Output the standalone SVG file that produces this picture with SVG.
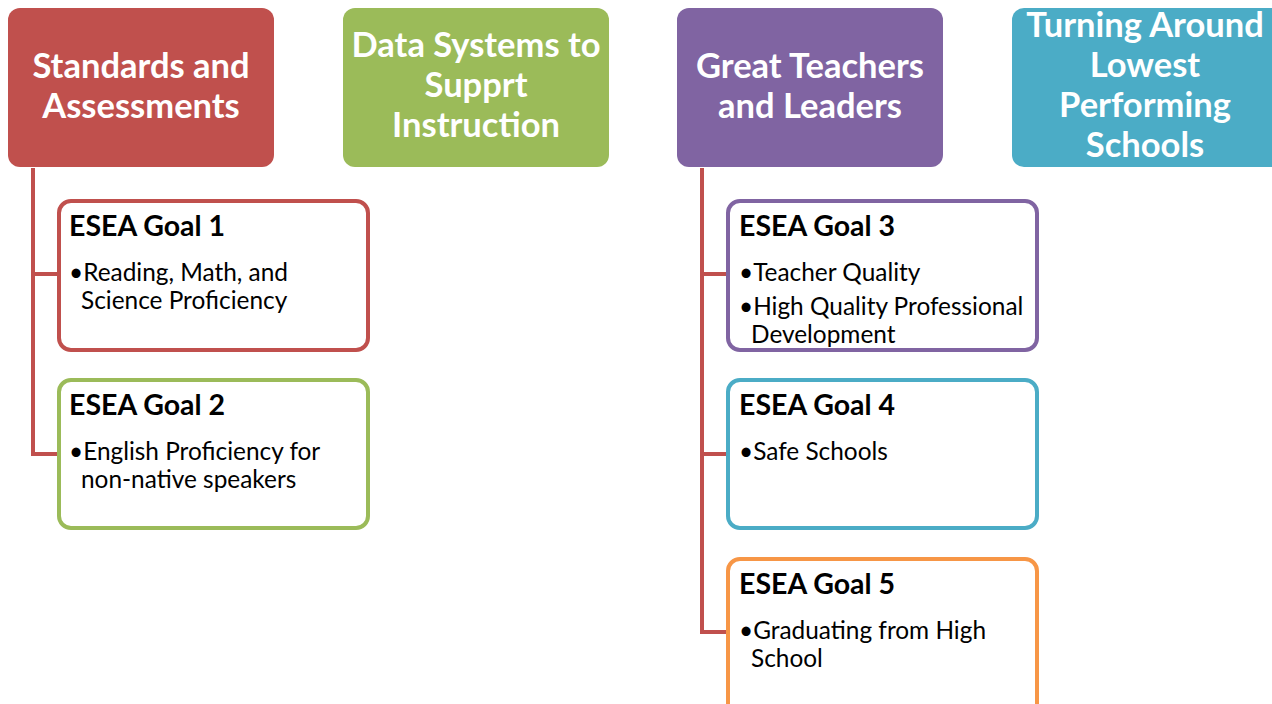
<svg xmlns="http://www.w3.org/2000/svg" width="1272" height="704" viewBox="0 0 1272 704">
<style>
.hdr{font-family:Lato,"Open Sans",sans-serif;font-weight:700;font-size:34.5px;fill:#fff;text-anchor:middle}
.gt{font-family:Lato,"Open Sans",sans-serif;font-weight:700;font-size:28.5px;fill:#000}
.bt{font-family:Lato,"Open Sans",sans-serif;font-size:24.4px;fill:#000}
.box{fill:#fff;stroke-width:4}
.con{stroke:#C0504D;stroke-width:4;fill:none}
</style>
<rect width="1272" height="704" fill="#fff"/>
<g id="connectors">
<path class="con" d="M33 168 V456 M31 274 H59 M31 454 H59"/>
<path class="con" d="M702 168 V634 M700 274 H728 M700 454 H728 M700 632 H728"/>
</g>
<g id="h1"><rect x="8" y="8" width="266" height="159" rx="12" fill="#C0504D"/>
<text class="hdr"><tspan x="141" y="78">Standards and</tspan><tspan x="141" y="118">Assessments</tspan></text></g>
<g id="h2"><rect x="343" y="8" width="266" height="159" rx="12" fill="#9BBB59"/>
<text class="hdr"><tspan x="476" y="57">Data Systems to</tspan><tspan x="476" y="97">Supprt</tspan><tspan x="476" y="137">Instruction</tspan></text></g>
<g id="h3"><rect x="677" y="8" width="266" height="159" rx="12" fill="#8064A2"/>
<text class="hdr"><tspan x="810" y="78">Great Teachers</tspan><tspan x="810" y="118">and Leaders</tspan></text></g>
<g id="h4"><rect x="1012" y="8" width="276" height="159" rx="12" fill="#4BACC6"/>
<text class="hdr"><tspan x="1145" y="37">Turning Around</tspan><tspan x="1145" y="77">Lowest</tspan><tspan x="1145" y="117">Performing</tspan><tspan x="1145" y="157">Schools</tspan></text></g>
<g id="g1"><rect class="box" x="59" y="201" width="309" height="149" rx="12" stroke="#C0504D"/>
<text class="gt" x="69" y="236">ESEA Goal 1</text>
<text class="bt"><tspan x="69" y="281">•Reading, Math, and</tspan><tspan x="81" y="309">Science Proficiency</tspan></text></g>
<g id="g2"><rect class="box" x="59" y="380" width="309" height="148" rx="12" stroke="#9BBB59"/>
<text class="gt" x="69" y="415">ESEA Goal 2</text>
<text class="bt"><tspan x="69" y="460">•English Proficiency for</tspan><tspan x="81" y="488">non-native speakers</tspan></text></g>
<g id="g3"><rect class="box" x="728" y="201" width="309" height="149" rx="12" stroke="#8064A2"/>
<text class="gt" x="739" y="236">ESEA Goal 3</text>
<text class="bt"><tspan x="739" y="281">•Teacher Quality</tspan><tspan x="739" y="315">•High Quality Professional</tspan><tspan x="751" y="343">Development</tspan></text></g>
<g id="g4"><rect class="box" x="728" y="380" width="309" height="148" rx="12" stroke="#4BACC6"/>
<text class="gt" x="739" y="415">ESEA Goal 4</text>
<text class="bt"><tspan x="739" y="460">•Safe Schools</tspan></text></g>
<g id="g5"><rect class="box" x="728" y="559" width="309" height="160" rx="12" stroke="#F79646"/>
<text class="gt" x="739" y="594">ESEA Goal 5</text>
<text class="bt"><tspan x="739" y="639">•Graduating from High</tspan><tspan x="751" y="667">School</tspan></text></g>
</svg>
